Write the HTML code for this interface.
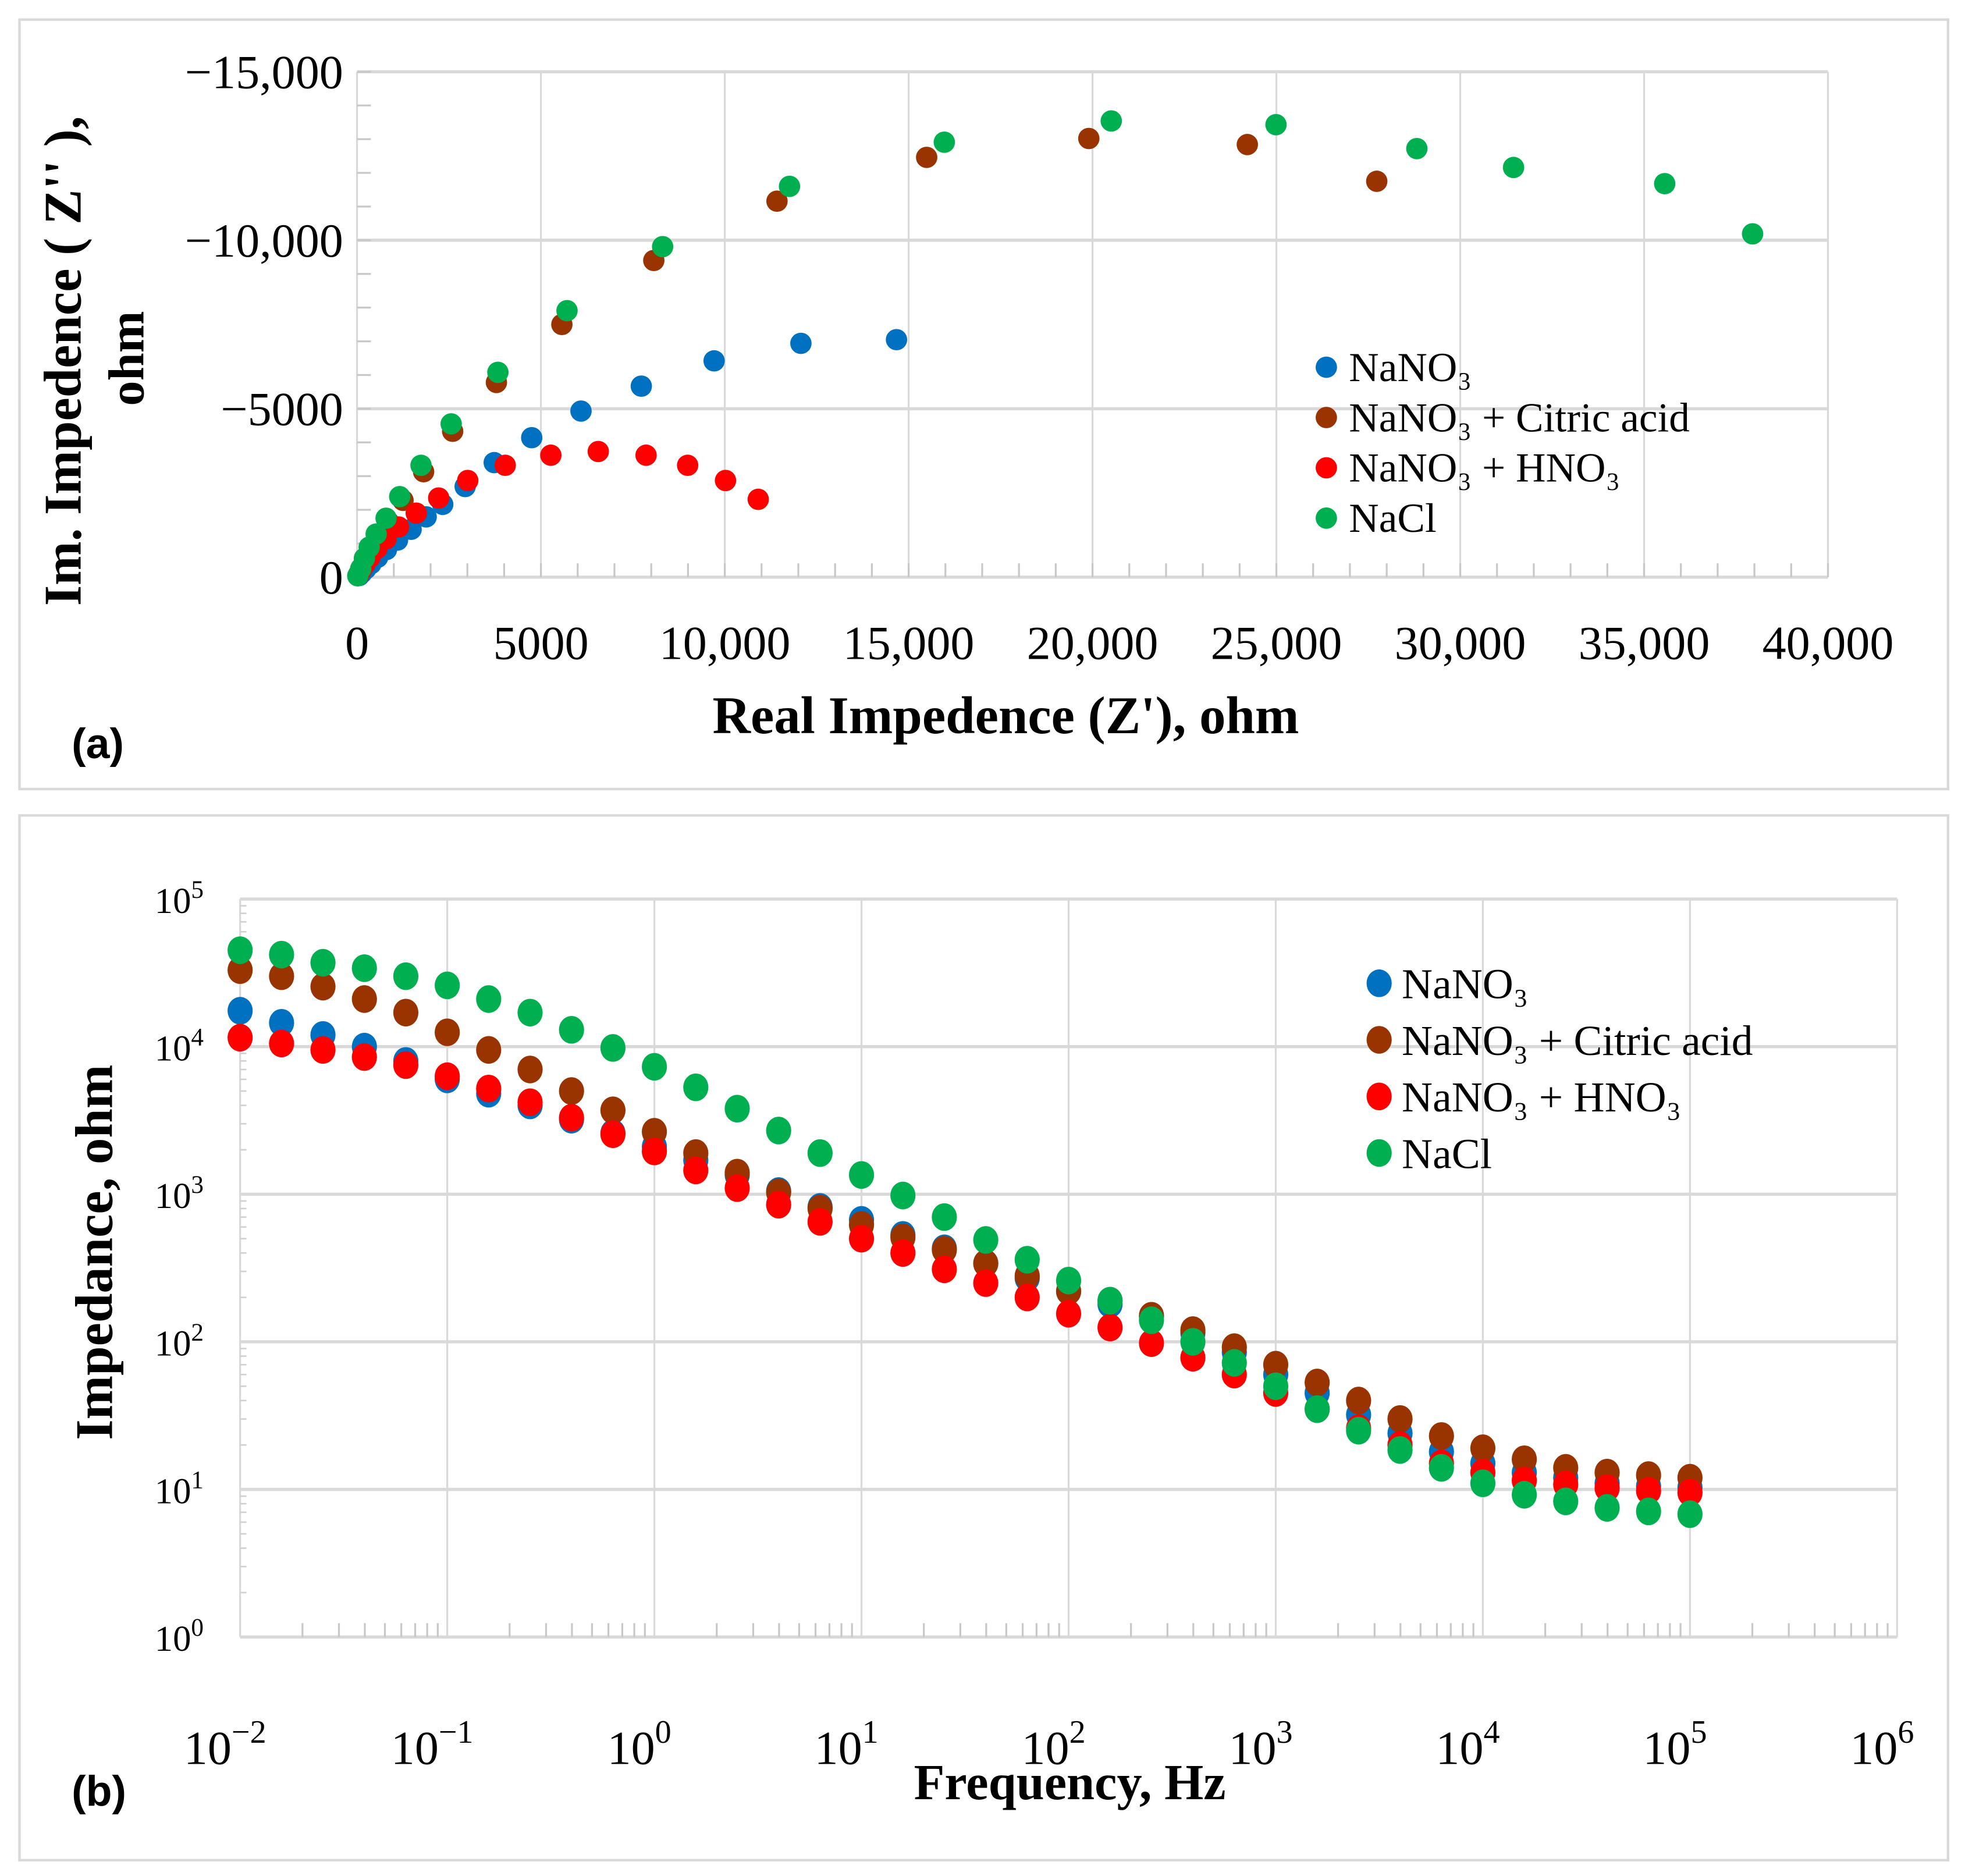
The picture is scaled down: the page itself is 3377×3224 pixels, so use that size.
<!DOCTYPE html>
<html><head><meta charset="utf-8"><style>
html,body{margin:0;padding:0;background:#fff;}
svg{display:block;}
text{font-family:"Liberation Serif",serif;}
</style></head><body>
<svg id="fig" width="3377" height="3224" viewBox="0 0 1563 1492" xmlns="http://www.w3.org/2000/svg"></svg>
<script>
// ---------- Chart (a) data: Nyquist ----------
const aBlueX=[14670,12070,9710,7730,6090,4750,3730,2940,2330,1880,1470,1100,800,560,380,240,130,60];
const aBlueY=[7050,6940,6420,5670,4930,4140,3400,2690,2160,1790,1420,1100,820,590,400,250,130,50];
const aBrownX=[27730,24210,19900,15490,11420,8070,5570,3790,2600,1810,1250,850,560,360,220,120,50];
const aBrownY=[11750,12840,13020,12460,11160,9400,7500,5780,4330,3130,2280,1650,1180,800,500,280,100];
const aRedX=[10910,10020,8990,7860,6560,5270,4030,3010,2220,1610,1130,790,540,350,210,110,40];
const aRedY=[2310,2870,3320,3620,3730,3620,3320,2870,2350,1900,1490,1140,850,590,380,200,60];
const aGreenX=[37950,35560,31450,28820,24990,20510,15970,11760,8310,5710,3830,2560,1740,1160,790,520,330,200,100,20];
const aGreenY=[10190,11680,12160,12720,13430,13540,12910,11600,9810,7910,6080,4550,3320,2390,1750,1280,890,560,250,40];
const aXTicks=[0,5000,10000,15000,20000,25000,30000,35000,40000];
const aXTickLabels=["0","5000","10,000","15,000","20,000","25,000","30,000","35,000","40,000"];
const aYTicks=[0,5000,10000,15000];
const aYTickLabels=["0","\u22125000","\u221210,000","\u221215,000"];
// ---------- Chart (b) data: Bode ----------
const bFreqExp=[];for(let i=0;i<36;i++)bFreqExp.push(-2+i*0.2);
const bBlue=[17500,14500,12000,10000,8000,6000,4800,4000,3200,2600,2100,1700,1350,1050,820,670,530,430,340,270,220,180,150,115,85,60,45,32,24,18,15,13,12,11,10.5,10.3];
const bBrown=[33000,30000,25500,21000,17000,12500,9500,7000,5000,3700,2650,1900,1400,1030,800,620,510,420,340,280,220,190,150,120,92,70,53,40,30,23,19,16,14,13,12.5,12];
const bRed=[11500,10500,9500,8500,7500,6300,5200,4200,3300,2550,1950,1450,1100,850,650,500,400,310,250,200,155,125,98,78,60,45,35,26,20,15,13,11.5,10.8,10.2,9.8,9.5];
const bGreen=[45000,42000,37000,34000,30000,26000,21000,17000,13000,9800,7300,5300,3800,2700,1900,1350,980,700,490,360,260,190,140,100,72,50,35,25,18.5,14,11,9.2,8.3,7.5,7.1,6.8];
const bXTickExp=[-2,-1,0,1,2,3,4,5,6];
const bYTickExp=[0,1,2,3,4,5];
const seriesNames=["NaNO\u2083","NaNO\u2083 + Citric acid","NaNO\u2083 + HNO\u2083","NaCl"];
const colors=["#0070C0","#993300","#FF0000","#00B050"];

const NS="http://www.w3.org/2000/svg";
const svg=document.getElementById('fig');
function mk(tag,attrs,parent,txt){const e=document.createElementNS(NS,tag);for(const k in attrs)e.setAttribute(k,attrs[k]);if(txt!==undefined)e.textContent=txt;(parent||svg).appendChild(e);return e;}

// ===== Panel (a) =====
const ga=mk('g',{});


const fa=mk('rect',{x:15.5,y:15.5,width:1534,height:612,fill:'#fff',stroke:'#d9d9d9','stroke-width':2},ga);


const ax0=284,ax1=1454,ay0=459,ay1=57;
const xa=v=>ax0+(v/40000)*(ax1-ax0);
const ya=v=>ay0-(v/15000)*(ay0-ay1);
for(const t of aXTicks){const l=mk('line',{x1:xa(t),x2:xa(t),y1:ay1,y2:ay0,stroke:'#d9d9d9','stroke-width':1.5},ga);

}
for(const t of aYTicks){const l=mk('line',{x1:ax0,x2:ax1,y1:ya(t),y2:ya(t),stroke:'#d9d9d9','stroke-width':2.5},ga);

}
for(let v=0;v<=40000;v+=1000){mk('line',{x1:xa(v),x2:xa(v),y1:ay0,y2:ay0-11,stroke:'#c8c8c8','stroke-width':1.5},ga);}
for(let v=0;v<=15000;v+=1000){mk('line',{x1:ax0,x2:ax0+11,y1:ya(v),y2:ya(v),stroke:'#c8c8c8','stroke-width':1.5},ga);}
aXTicks.forEach((t,i)=>{const e=mk('text',{x:xa(t),y:524,'font-size':38,'text-anchor':'middle'},ga,aXTickLabels[i]);

});
aYTicks.forEach((t,i)=>{const e=mk('text',{x:273,y:ya(t)+13,'font-size':38,'text-anchor':'end'},ga,aYTickLabels[i]);

});
const axt=mk('text',{x:800,y:583,'font-size':42,'font-weight':'bold','text-anchor':'middle'},ga,"Real Impedence (Z'),  ohm");


const ayt=mk('text',{x:0,y:0,'font-size':42,'font-weight':'bold','text-anchor':'middle',transform:'translate(64,287) rotate(-90)'},ga,"Im. Impedence ( Z'' ),");


const ayt2=mk('text',{x:0,y:0,'font-size':40,'font-weight':'bold','text-anchor':'middle',transform:'translate(114,285) rotate(-90)'},ga,"ohm");


const la=mk('text',{x:57,y:603,'font-size':34,'font-weight':'bold',style:'font-family:"Liberation Sans",sans-serif'},ga,"(a)");


const aSeries=[[aBlueX,aBlueY],[aBrownX,aBrownY],[aRedX,aRedY],[aGreenX,aGreenY]];
aSeries.forEach((s,si)=>{const g=mk('g',{fill:colors[si]},ga);


s[0].forEach((xv,i)=>{const c=mk('circle',{cx:xa(xv),cy:ya(s[1][i]),r:8.5},g);

});});
seriesNames.forEach((n,i)=>{const y=292+i*40;
const c=mk('circle',{cx:1055,cy:y,r:8.5,fill:colors[i]},ga);


const t=mk('text',{x:1073,y:y+11,'font-size':33},ga,n);

});

// ===== Panel (b) =====
const gb=mk('g',{});


const fb=mk('rect',{x:15.5,y:648.5,width:1534,height:831,fill:'#fff',stroke:'#d9d9d9','stroke-width':2},gb);


const bx0=191,bx1=1509,by0=1302,by1=715;
const xb=e=>bx0+(e+2)/8*(bx1-bx0);
const yb=v=>by0-Math.log10(v)/5*(by0-by1);
for(const e of bXTickExp){const l=mk('line',{x1:xb(e),x2:xb(e),y1:by1,y2:by0,stroke:'#d9d9d9','stroke-width':1.5},gb);

}
for(const e of bYTickExp){const l=mk('line',{x1:bx0,x2:bx1,y1:yb(Math.pow(10,e)),y2:yb(Math.pow(10,e)),stroke:'#d9d9d9','stroke-width':2.5},gb);

}
for(let d=-2;d<6;d++){for(let k=2;k<=9;k++){const x=xb(d+Math.log10(k));mk('line',{x1:x,x2:x,y1:by0,y2:by0-11,stroke:'#c8c8c8','stroke-width':1.5},gb);}}
for(let d=0;d<5;d++){for(let k=2;k<=9;k++){const y=yb(Math.pow(10,d)*k);mk('line',{x1:bx0,x2:bx0+5,y1:y,y2:y,stroke:'#d0d0d0','stroke-width':1.2},gb);}}
bXTickExp.forEach(e=>{const t=mk('text',{x:xb(e)-12,y:1403,'font-size':38,'text-anchor':'middle'},gb);


mk('tspan',{},t,'10');
mk('tspan',{dy:-17,'font-size':26},t,e<0?'\u2212'+(-e):String(e));});
bYTickExp.forEach(e=>{const t=mk('text',{x:162,y:yb(Math.pow(10,e))+11,'font-size':29,'text-anchor':'end'},gb);


mk('tspan',{},t,'10');
mk('tspan',{dy:-12,'font-size':20},t,String(e));});
const bxt=mk('text',{x:851,y:1431,'font-size':40,'font-weight':'bold','text-anchor':'middle'},gb,"Frequency, Hz");


const byt=mk('text',{x:0,y:0,'font-size':42,'font-weight':'bold','text-anchor':'middle',transform:'translate(89,996) rotate(-90)'},gb,"Impedance, ohm");


const lb=mk('text',{x:57,y:1436,'font-size':34,'font-weight':'bold',style:'font-family:"Liberation Sans",sans-serif'},gb,"(b)");


[bBlue,bBrown,bRed,bGreen].forEach((s,si)=>{const g=mk('g',{fill:colors[si]},gb);


s.forEach((v,i)=>{const c=mk('ellipse',{cx:xb(bFreqExp[i]),cy:yb(v),rx:10,ry:11},g);

});});
seriesNames.forEach((n,i)=>{const y=782+i*45;
const c=mk('ellipse',{cx:1097,cy:y,rx:10,ry:11,fill:colors[i]},gb);


const t=mk('text',{x:1115,y:y+12,'font-size':34},gb,n);

});
</script>
</body></html>
